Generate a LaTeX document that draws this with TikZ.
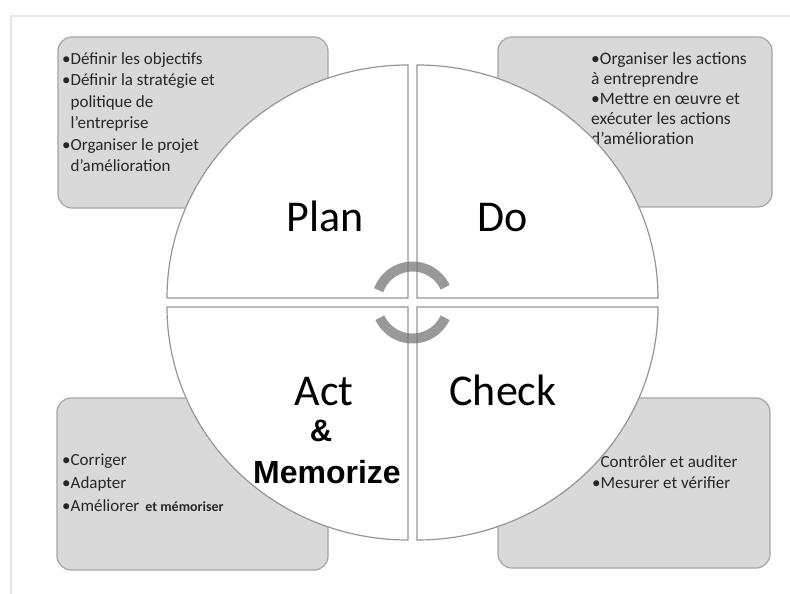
\documentclass[tikz,border=0pt]{standalone}
\usepackage{fontspec}
\setmainfont{Carlito}
\newfontfamily\boldsans{Liberation Sans}
\definecolor{boxgray}{RGB}{217,217,217}
\definecolor{boxline}{RGB}{165,165,165}
\definecolor{quadline}{RGB}{150,150,150}
\definecolor{cyclegray}{RGB}{120,120,120}
\definecolor{framegray}{RGB}{230,230,230}
\tikzstyle{every node}=[inner sep=0pt]
\tikzstyle{box}=[fill=boxgray,draw=boxline,line width=1.2pt,rounded corners=14pt]
\tikzstyle{quad}=[fill=white,draw=quadline,line width=1.2pt]
\tikzstyle{phase}=[anchor=base,font=\fontsize{44}{50}\selectfont]
\tikzstyle{memo}=[anchor=base,font=\boldsans\bfseries\fontsize{32}{36}\selectfont]
\tikzstyle{notes}=[anchor=north west,align=left,text=black!85,font=\fontsize{17}{21}\selectfont]
\tikzstyle{cyclearc}=[draw=cyclegray,line width=10pt,opacity=0.75]

\begin{document}
\begin{tikzpicture}[x=1pt,y=-1pt]
	\useasboundingbox (0,0) rectangle (790,594);
	\draw[framegray,line width=1.5pt] (11,594) -- (11,16) -- (790,16);

	\draw[box] (58,37) rectangle (328,208);
	\draw[box] (498,37) rectangle (772,207);
	\draw[box] (57,398) rectangle (328,570);
	\draw[box] (498,398) rectangle (770,568);

	\node[notes,font=\fontsize{17}{21.5}\selectfont] (PT) at (62,52) {•Définir les objectifs\\•Définir la stratégie et\\\hphantom{•}politique de\\\hphantom{•}l'entreprise\\•Organiser le projet\\\hphantom{•}d'amélioration};
	\node[notes,font=\fontsize{17.5}{20}\selectfont] (DT) at (591,52) {•Organiser les actions\\à entreprendre\\•Mettre en œuvre et\\exécuter les actions\\d'amélioration};
	\node[notes,font=\fontsize{17}{23}\selectfont] (AT) at (62,454) {•Corriger\\•Adapter\\•Améliorer\hspace{6pt}{\bfseries\fontsize{14}{16}\selectfont et mémoriser}};
	\node[notes] (CT) at (592,455) {\hphantom{•}Contrôler et auditer\\•Mesurer et vérifier};

	\draw[quad] (408,298) -- (167,298) arc[start angle=180,end angle=270,x radius=241,y radius=233] -- cycle;
	\draw[quad] (417,298) -- (417,65) arc[start angle=270,end angle=360,x radius=241,y radius=233] -- cycle;
	\draw[quad] (417,307) -- (658,307) arc[start angle=0,end angle=90,x radius=241,y radius=233] -- cycle;
	\draw[quad] (408,307) -- (408,540) arc[start angle=90,end angle=180,x radius=241,y radius=233] -- cycle;

	\coordinate (O) at (412.5,302.5);
	\draw[cyclearc] (O) ++(-25:36) arc[start angle=-25,end angle=-160,radius=36];
	\draw[cyclearc] (O) ++(25:36) arc[start angle=25,end angle=155,radius=36];

	\node[phase] (P) at (325,231) {Plan};
	\node[phase] (D) at (503,231) {Do};
	\node[phase] (A) at (324,405) {Act};
	\node[phase] (C) at (503,405) {Check};
	\node[memo,font=\boldsans\bfseries\fontsize{31}{36}\selectfont] (AND) at (321,441) {\&};
	\node[memo] (M) at (327,483) {Memorize};
\end{tikzpicture}
\end{document}
